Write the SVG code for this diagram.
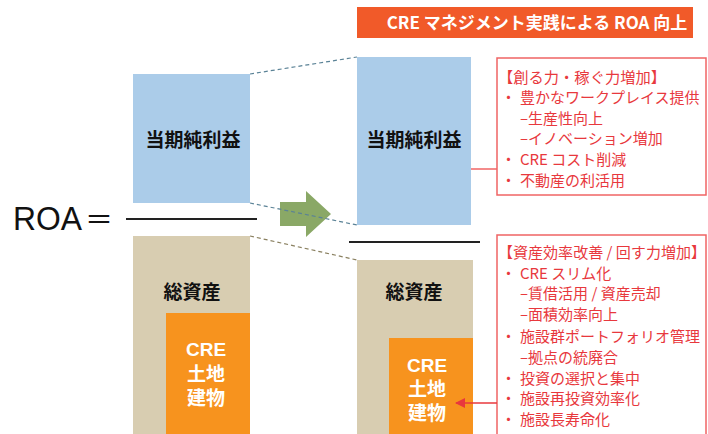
<svg xmlns="http://www.w3.org/2000/svg" width="708" height="434" viewBox="0 0 708 434">
<style>
.lbl{font-family:"Noto Sans CJK JP","Liberation Sans",sans-serif;font-weight:bold;font-size:19px;fill:#111;text-anchor:middle}
.cre{font-family:"Liberation Sans","Noto Sans CJK JP",sans-serif;font-weight:bold;font-size:19px;fill:#fff;text-anchor:middle}
.rt{font-family:"Noto Sans CJK JP",sans-serif;font-size:15px;fill:#e8383d}
.blue{fill:#abcce9}
.tan{fill:#d8cdb1}
.org{fill:#f7931e}
.frac{stroke:#222;stroke-width:2}
</style>
<defs>
<marker id="ah" markerWidth="10" markerHeight="10" refX="9" refY="5" orient="auto" markerUnits="userSpaceOnUse">
<path d="M0,0 L10,5 L0,10 z" fill="#e8383d"/>
</marker>
</defs>
<g id="roa-label">
<text x="13" y="230" font-family="Liberation Sans,sans-serif" font-size="34" textLength="69" lengthAdjust="spacingAndGlyphs" fill="#111">ROA</text>
<text x="85" y="230" font-family="Noto Sans CJK JP,sans-serif" font-size="28" fill="#111">＝</text>
</g>
<g id="left-profit">
<rect class="blue" x="133" y="74" width="117" height="129"/>
<text class="lbl" x="193" y="147">当期純利益</text>
</g>
<line class="frac" x1="126" y1="219" x2="257" y2="219"/>
<g id="left-assets">
<rect class="tan" x="133" y="236" width="117" height="198"/>
<text class="lbl" x="192" y="299">総資産</text>
</g>
<g id="left-cre">
<rect class="org" x="166" y="313" width="84" height="121"/>
<text class="cre" x="206" y="356">CRE</text>
<text class="cre" x="206" y="381">土地</text>
<text class="cre" x="206" y="405">建物</text>
</g>
<g id="arrow">
<path d="M280,202 L306,202 L306,191 L331,214 L306,237 L306,226 L280,226 z" fill="#8aa866"/>
</g>
<g id="title">
<rect x="357" y="7" width="336" height="31" fill="#f15a29"/>
<text x="537" y="29" font-family="Noto Sans CJK JP,sans-serif" font-size="17" font-weight="bold" fill="#fff" text-anchor="middle">CRE マネジメント実践による ROA 向上</text>
</g>
<g id="right-profit">
<rect class="blue" x="357" y="57" width="114" height="168"/>
<text class="lbl" x="414" y="147">当期純利益</text>
</g>
<line class="frac" x1="349" y1="242" x2="480" y2="242"/>
<g id="right-assets">
<rect class="tan" x="357" y="260" width="116" height="174"/>
<text class="lbl" x="414" y="299">総資産</text>
</g>
<g id="right-cre">
<rect class="org" x="389" y="338" width="84" height="96"/>
<text class="cre" x="427" y="372">CRE</text>
<text class="cre" x="427" y="396">土地</text>
<text class="cre" x="427" y="420">建物</text>
</g>
<g id="box-earn">
<rect x="497" y="58" width="209" height="137" fill="#fff" stroke="#f06464" stroke-width="1.5"/>
<text class="rt" x="498" y="83" textLength="168" lengthAdjust="spacingAndGlyphs">【創る力・稼ぐ力増加】</text>
<text class="rt" y="103"><tspan x="501">・</tspan><tspan x="520">豊かなワークプレイス提供</tspan></text>
<text class="rt" x="520" y="124">–生産性向上</text>
<text class="rt" x="520" y="144">–イノベーション増加</text>
<text class="rt" y="165"><tspan x="501">・</tspan><tspan x="520">CRE コスト削減</tspan></text>
<text class="rt" y="186"><tspan x="501">・</tspan><tspan x="520">不動産の利活用</tspan></text>
</g>
<g id="box-assets">
<rect x="497" y="235" width="209" height="205" fill="#fff" stroke="#f06464" stroke-width="1.5"/>
<text class="rt" x="498" y="258" textLength="208" lengthAdjust="spacingAndGlyphs">【資産効率改善 / 回す力増加】</text>
<text class="rt" y="279"><tspan x="501">・</tspan><tspan x="520">CRE スリム化</tspan></text>
<text class="rt" x="520" y="299">–賃借活用 / 資産売却</text>
<text class="rt" x="520" y="320">–面積効率向上</text>
<text class="rt" y="342"><tspan x="501">・</tspan><tspan x="520">施設群ポートフォリオ管理</tspan></text>
<text class="rt" x="520" y="363">–拠点の統廃合</text>
<text class="rt" y="384"><tspan x="501">・</tspan><tspan x="520">投資の選択と集中</tspan></text>
<text class="rt" y="404"><tspan x="501">・</tspan><tspan x="520">施設再投資効率化</tspan></text>
<text class="rt" y="425"><tspan x="501">・</tspan><tspan x="520">施設長寿命化</tspan></text>
</g>
<g id="connectors">
<line x1="250" y1="74" x2="357" y2="57" stroke="#5a8296" stroke-width="1.2" stroke-dasharray="4,3"/>
<line x1="250" y1="203" x2="357" y2="225" stroke="#5a8296" stroke-width="1.2" stroke-dasharray="4,3"/>
<line x1="250" y1="236" x2="357" y2="260" stroke="#8a8060" stroke-width="1.2" stroke-dasharray="4,3"/>
<line x1="471" y1="169" x2="497" y2="169" stroke="#f06464" stroke-width="1.5"/>
<line x1="497" y1="403" x2="456" y2="403" stroke="#e8383d" stroke-width="1.5" marker-end="url(#ah)"/>
</g>
</svg>
